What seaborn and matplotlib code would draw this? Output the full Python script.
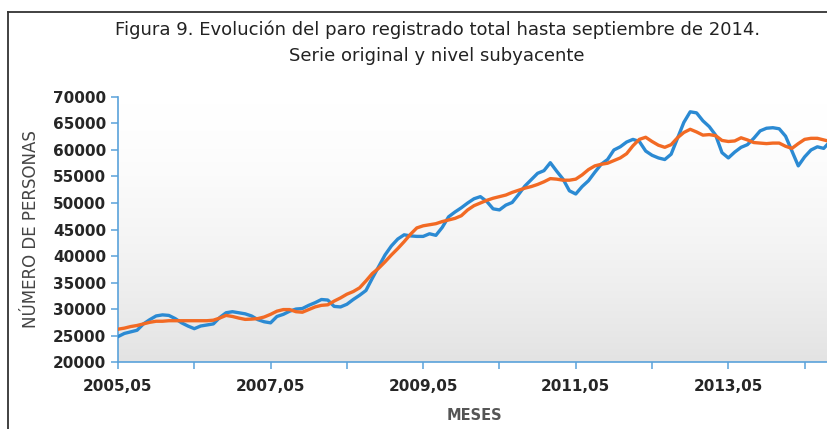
import matplotlib
matplotlib.use("Agg")
import matplotlib.pyplot as plt
from matplotlib.lines import Line2D
from matplotlib.colors import LinearSegmentedColormap
import numpy as np
import pandas as pd
import seaborn as sns

# serie original (paro registrado), mensual desde 2005,05 hasta 2014,09
original = [
    24800, 25400, 25700, 26000, 27200, 28000, 28700, 28900, 28800, 28200,
    27400, 26800, 26300, 26800, 27000, 27200, 28400, 29300, 29500, 29300,
    29100, 28700, 28000, 27600, 27400, 28600, 29000, 29600, 30000, 30100,
    30700, 31200, 31800, 31700, 30500, 30400, 30900, 31800, 32600, 33500,
    35800, 38000, 40200, 41900, 43200, 44000, 43800, 43700, 43700, 44200,
    43900, 45400, 47400, 48300, 49100, 50000, 50800, 51200, 50300, 48900,
    48700, 49600, 50100, 51600, 53200, 54400, 55600, 56100, 57600, 56000,
    54500, 52300, 51700, 53100, 54200, 55800, 57300, 58200, 60000, 60600,
    61500, 62000, 61600, 59800, 59000, 58500, 58200, 59200, 62200, 65200,
    67200, 67000, 65500, 64400, 62800, 59500, 58500, 59600, 60500, 61000,
    62200, 63600, 64100, 64200, 64000, 62600, 59800, 57000, 58700, 60000,
    60600, 60300, 61600,
]

# nivel subyacente
subyacente = [
    26200, 26400, 26700, 26900, 27200, 27500, 27700, 27700, 27800, 27800,
    27800, 27800, 27800, 27800, 27800, 27900, 28300, 28800, 28600, 28300,
    28050, 28100, 28200, 28500, 29000, 29600, 29900, 29900, 29500, 29400,
    29900, 30400, 30700, 30800, 31500, 32100, 32800, 33300, 34000, 35300,
    36700, 37700, 38900, 40200, 41400, 42700, 44100, 45300, 45700, 45900,
    46100, 46500, 46800, 47100, 47600, 48700, 49500, 50000, 50500, 50900,
    51200, 51500, 52000, 52400, 52800, 53100, 53500, 54000, 54600, 54500,
    54300, 54300, 54500, 55300, 56300, 57000, 57300, 57500, 58000, 58500,
    59300, 60800, 62000, 62400, 61600, 60900, 60500, 61000, 62300, 63300,
    63900, 63400, 62800, 62900, 62700, 61800, 61600, 61700, 62300, 61900,
    61400, 61300, 61200, 61300, 61300, 60700, 60300, 61200, 62000, 62200,
    62200, 61900, 61600,
]

tick_labels = ["2005,05", "", "2007,05", "", "2009,05", "", "2011,05", "", "2013,05", ""]

df = pd.DataFrame({
    "mes": range(len(original)),
    "original": original,
    "subyacente": subyacente,
})

fig = plt.figure(figsize=(8.28, 4.29), dpi=100)
ax = fig.add_axes([0.1425, 0.156, 0.86, 0.618])

# fondo degradado blanco (arriba) -> gris (abajo)
grad = np.linspace(0, 1, 256).reshape(-1, 1) ** 1.6
cmap = LinearSegmentedColormap.from_list("bg", ["#ffffff", "#e3e3e3"])
ax.imshow(grad, aspect="auto", cmap=cmap, extent=[0, 1, 0, 1], origin="upper",
          transform=ax.transAxes, zorder=0)

sns.lineplot(data=df, x="mes", y="original", ax=ax, color="#2b8ad3",
             linewidth=2.4, zorder=3)
sns.lineplot(data=df, x="mes", y="subyacente", ax=ax, color="#f26a24",
             linewidth=2.4, zorder=4)

ax.set_xlim(0, 112)
ax.set_ylim(20000, 70000)
ax.set_yticks(range(20000, 70001, 5000))
ax.set_xticks(range(0, 109, 12))
ax.set_xticklabels(tick_labels)

spine_c = "#5aa2da"
for s in ["top", "right"]:
    ax.spines[s].set_visible(False)
for s in ["left", "bottom"]:
    ax.spines[s].set_color(spine_c)
    ax.spines[s].set_linewidth(1.2)
ax.tick_params(axis="both", direction="out", length=5, width=1.1,
               color=spine_c, labelcolor="#262626", labelsize=11)
ax.tick_params(axis="x", pad=7)
for lab in ax.get_xticklabels() + ax.get_yticklabels():
    lab.set_fontweight("bold")

ax.set_xlabel("MESES", fontsize=10.5, fontweight="bold", color="#555555", labelpad=10)
ax.set_ylabel("NÚMERO DE PERSONAS", fontsize=12, color="#444444", labelpad=9)

fig.text(0.528, 0.93, "Figura 9. Evolución del paro registrado total hasta septiembre de 2014.",
         ha="center", va="center", fontsize=13, color="#222222")
fig.text(0.528, 0.87, "Serie original y nivel subyacente",
         ha="center", va="center", fontsize=13, color="#222222")

# marco exterior
fig.add_artist(Line2D([8 / 828, 1.0], [1 - 12 / 429, 1 - 12 / 429],
                      transform=fig.transFigure, color="#333333", linewidth=1.3))
fig.add_artist(Line2D([8 / 828, 8 / 828], [0.0, 1 - 12 / 429],
                      transform=fig.transFigure, color="#333333", linewidth=1.3))

fig.savefig("out.png", dpi=100)
